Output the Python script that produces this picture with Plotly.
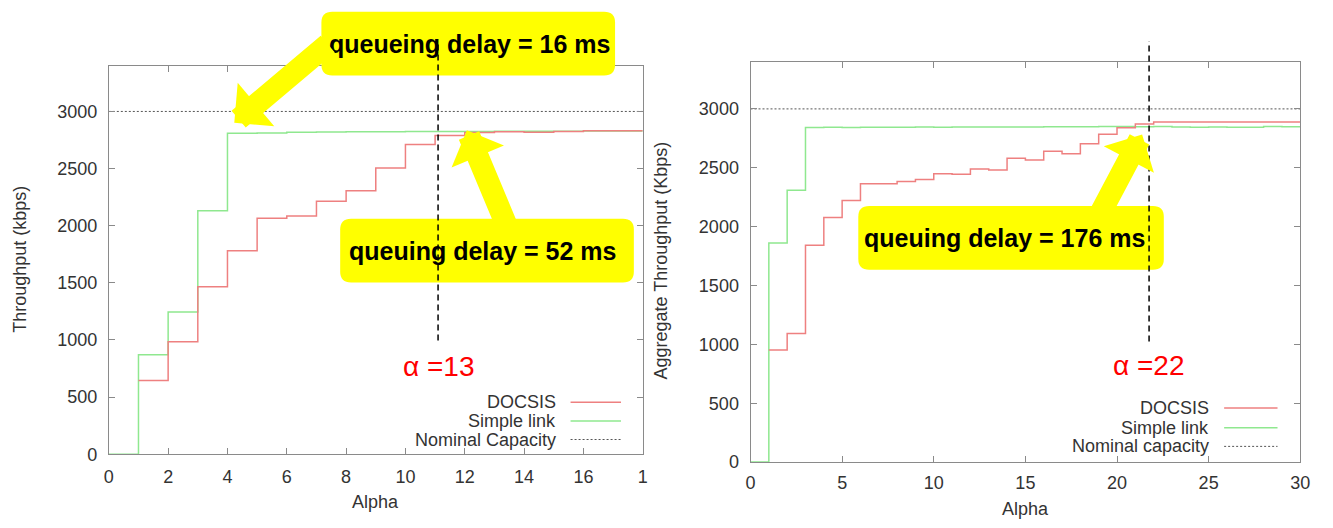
import plotly.graph_objects as go

# ---------------- data ----------------
# Left panel: throughput vs. alpha (alpha = 0 .. 18)
left_simple_alpha = list(range(0, 19))
left_simple = [0, 870, 1245, 2130, 2808, 2812, 2818, 2820, 2822, 2822,
               2824, 2825, 2825, 2826, 2826, 2827, 2828, 2828, 2828]
left_docsis_alpha = list(range(1, 19))
left_docsis = [645, 985, 1465, 1780, 2065, 2085, 2215, 2305, 2505, 2710,
               2790, 2815, 2822, 2818, 2824, 2830, 2830, 2830]
left_nominal_alpha = [0, 18]
left_nominal = [3000, 3000]
left_xticks = [0, 2, 4, 6, 8, 10, 12, 14, 16, 18]
left_xtick_text = ["0", "2", "4", "6", "8", "10", "12", "14", "16", "1"]

# Right panel: aggregate throughput vs. alpha (alpha = 0 .. 30)
right_simple_alpha = list(range(0, 31))
right_simple = [0, 1861, 2308, 2842, 2845, 2843, 2845, 2844, 2845, 2846,
                2845, 2846, 2846, 2847, 2846, 2847, 2848, 2848, 2849, 2850,
                2850, 2848, 2850, 2846, 2845, 2846, 2844, 2845, 2850, 2848,
                2848]
right_docsis_alpha = list(range(1, 31))
right_docsis = [953, 1092, 1842, 2078, 2222, 2365, 2365, 2383, 2400, 2450,
                2445, 2490, 2480, 2580, 2567, 2640, 2620, 2703, 2785, 2840,
                2872, 2889, 2889, 2889, 2889, 2889, 2889, 2889, 2889, 2889]
right_nominal_alpha = [0, 30]
right_nominal = [3000, 3000]
right_xticks = [0, 5, 10, 15, 20, 25, 30]

y_ticks = [0, 500, 1000, 1500, 2000, 2500, 3000]

# alpha at which the two links reach the same throughput
left_alpha_mark, left_alpha_label = 11.1, "α =13"
right_alpha_mark, right_alpha_label = 21.75, "α =22"

delay_labels = ["queueing delay = 16 ms", "queuing delay = 52 ms", "queuing delay = 176 ms"]

# ---------------- styling ----------------
W, H = 1333, 528
RED = "#ee8080"
GREEN = "#8fe88f"
NOMINAL = "#555555"
FRAME = "#8a8a8a"
TXT = "#333333"
YELLOW = "#ffff00"
FONT = "Liberation Sans, Arial, sans-serif"


def px(x):
    return x / W


def py(y):
    return 1 - y / H


def rounded_box(x0, y0, x1, y1, r=10):
    """SVG path (paper coords) for a rounded rectangle given in pixels."""
    pts = [
        ("M", [(x0 + r, y0)]), ("L", [(x1 - r, y0)]), ("Q", [(x1, y0), (x1, y0 + r)]),
        ("L", [(x1, y1 - r)]), ("Q", [(x1, y1), (x1 - r, y1)]),
        ("L", [(x0 + r, y1)]), ("Q", [(x0, y1), (x0, y1 - r)]),
        ("L", [(x0, y0 + r)]), ("Q", [(x0, y0), (x0 + r, y0)]),
    ]
    s = ""
    for cmd, coords in pts:
        s += cmd + " ".join(f"{px(a):.5f},{py(b):.5f}" for a, b in coords) + " "
    return s + "Z"


fig = go.Figure()

# left panel traces
fig.add_trace(go.Scatter(x=left_nominal_alpha, y=left_nominal, mode="lines",
                         line=dict(color=NOMINAL, width=1, dash="2px,2px"),
                         name="Nominal Capacity", xaxis="x", yaxis="y", showlegend=False))
fig.add_trace(go.Scatter(x=left_simple_alpha, y=left_simple, mode="lines", line_shape="hv",
                         line=dict(color=GREEN, width=1.5),
                         name="Simple link", xaxis="x", yaxis="y", showlegend=False))
fig.add_trace(go.Scatter(x=left_docsis_alpha, y=left_docsis, mode="lines", line_shape="hv",
                         line=dict(color=RED, width=1.5),
                         name="DOCSIS", xaxis="x", yaxis="y", showlegend=False))

# right panel traces
fig.add_trace(go.Scatter(x=right_nominal_alpha, y=right_nominal, mode="lines",
                         line=dict(color=NOMINAL, width=1, dash="2px,2px"),
                         name="Nominal capacity", xaxis="x2", yaxis="y2", showlegend=False))
fig.add_trace(go.Scatter(x=right_simple_alpha, y=right_simple, mode="lines", line_shape="hv",
                         line=dict(color=GREEN, width=1.5),
                         name="Simple link", xaxis="x2", yaxis="y2", showlegend=False))
fig.add_trace(go.Scatter(x=right_docsis_alpha, y=right_docsis, mode="lines", line_shape="hv",
                         line=dict(color=RED, width=1.5),
                         name="DOCSIS", xaxis="x2", yaxis="y2", showlegend=False))

axis_common = dict(showline=True, linecolor=FRAME, linewidth=1, mirror="ticks",
                   ticks="inside", ticklen=6, tickcolor=FRAME, tickwidth=1,
                   showgrid=False, zeroline=False,
                   tickfont=dict(family=FONT, size=18, color=TXT))

fig.update_layout(
    width=W, height=H, autosize=False,
    margin=dict(l=0, r=0, t=0, b=0),
    paper_bgcolor="white", plot_bgcolor="white",
    showlegend=False,
    xaxis=dict(domain=[px(105), px(645)], range=[0, 18], anchor="y",
               tickvals=left_xticks, ticktext=left_xtick_text,
               ticklabelstandoff=6, **axis_common),
    yaxis=dict(domain=[py(463), py(67)], range=[0, 3400], anchor="x",
               tickvals=y_ticks, ticklabelstandoff=7, **axis_common),
    xaxis2=dict(domain=[px(754), px(1310)], range=[0, 30], anchor="y2",
                tickvals=right_xticks, ticklabelstandoff=4, **axis_common),
    yaxis2=dict(domain=[py(471), py(63)], range=[0, 3400], anchor="x2",
                tickvals=y_ticks, ticklabelstandoff=7, **axis_common),
)

shapes = []
annotations = []

# axis titles
for txt, x, y, ang in [("Throughput (kbps)", 15, 264, -90),
                       ("Alpha", 375, 512, 0),
                       ("Aggregate Throughput (Kbps)", 663, 266, -90),
                       ("Alpha", 1032, 519, 0)]:
    annotations.append(dict(text=txt, x=px(x), y=py(y), xref="paper", yref="paper",
                            showarrow=False, textangle=ang, xanchor="center", yanchor="middle",
                            font=dict(family=FONT, size=18, color=TXT)))

# gnuplot-style legends (text on the left, sample on the right)
legend_rows = [
    (["DOCSIS", "Simple link", "Nominal Capacity"], 559, 572, 623, [410, 429, 448]),
    (["DOCSIS", "Simple link", "Nominal capacity"], 1220, 1233, 1287, [416, 436, 455]),
]
styles = [dict(color=RED, width=1.5), dict(color=GREEN, width=1.5),
          dict(color=NOMINAL, width=1, dash="2px,2px")]
for labels, tx, lx0, lx1, ys in legend_rows:
    for lab, yy, st in zip(labels, ys, styles):
        annotations.append(dict(text=lab, x=px(tx), y=py(yy), xref="paper", yref="paper",
                                showarrow=False, xanchor="right", yanchor="middle",
                                font=dict(family=FONT, size=18, color=TXT)))
        shapes.append(dict(type="line", xref="paper", yref="paper",
                           x0=px(lx0), x1=px(lx1), y0=py(yy), y1=py(yy), line=st))

# yellow call-out boxes
boxes = [(320, 12, 617, 77), (339, 223, 636, 288), (863, 210, 1172, 275)]
text_centres = [(470, 45), (483, 256), (1011, 243)]
for (x0, y0, x1, y1), (cx, cy), lab in zip(boxes, text_centres, delay_labels):
    shapes.append(dict(type="path", xref="paper", yref="paper", path=rounded_box(x0, y0, x1, y1, 11),
                       fillcolor=YELLOW, line=dict(width=0), layer="above"))
    annotations.append(dict(text=f"<b>{lab}</b>", x=px(cx), y=py(cy), xref="paper", yref="paper",
                            showarrow=False, xanchor="center", yanchor="middle",
                            font=dict(family=FONT, size=25, color="black")))

# vertical dashed markers
shapes.append(dict(type="line", xref="x", yref="paper", x0=left_alpha_mark, x1=left_alpha_mark,
                   y0=py(347), y1=py(42), line=dict(color="black", width=1.5, dash="6px,4px"),
                   layer="above"))
shapes.append(dict(type="line", xref="x2", yref="paper", x0=right_alpha_mark, x1=right_alpha_mark,
                   y0=py(348), y1=py(42), line=dict(color="black", width=1.5, dash="6px,4px"),
                   layer="above"))

annotations.append(dict(text=left_alpha_label, x=px(438), y=py(374), xref="paper", yref="paper",
                        showarrow=False, xanchor="center", yanchor="middle",
                        font=dict(family=FONT, size=28, color="red")))
annotations.append(dict(text=right_alpha_label, x=px(1157), y=py(373), xref="paper", yref="paper",
                        showarrow=False, xanchor="center", yanchor="middle",
                        font=dict(family=FONT, size=28, color="red")))

# block arrows from the call-outs to the curves
arrows = [
    ("x", "y", 4.23, 2900, 95, -80),
    ("x", "y", 12.07, 2835, 43, 103),
    ("x2", "y2", 21.37, 2783, -45, 85),
]
for xr, yr, x, y, ax, ay in arrows:
    annotations.append(dict(text="", x=x, y=y, xref=xr, yref=yr, ax=ax, ay=ay,
                            showarrow=True, arrowhead=1, arrowsize=0.43, arrowwidth=22,
                            arrowcolor=YELLOW))

fig.update_layout(shapes=shapes, annotations=annotations)

fig.write_html("out.html")
